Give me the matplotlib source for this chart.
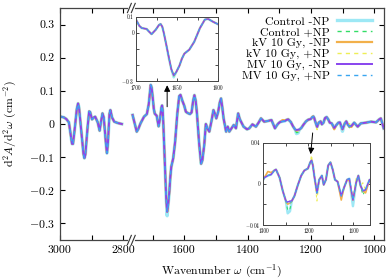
import numpy as np
import matplotlib
matplotlib.use("Agg")
import matplotlib.pyplot as plt

plt.rcParams['font.family'] = ['cmr10', 'DejaVu Serif']
plt.rcParams['mathtext.fontset'] = 'cm'
plt.rcParams['axes.formatter.use_mathtext'] = True

# C-H stretch region (left of the axis break)
wn_high = [2997, 2988, 2980, 2972, 2966, 2962, 2959, 2953, 2947, 2943, 2940,
           2933, 2926, 2923, 2920, 2913, 2908, 2905, 2899, 2893, 2889, 2881,
           2875, 2871, 2866, 2862, 2855, 2852, 2849, 2844, 2841, 2836, 2829,
           2818, 2805]
d2_high = [0.022, 0.020, 0.015, 0.005, -0.035, -0.060, -0.060, -0.010, 0.045,
           0.062, 0.050, -0.020, -0.090, -0.103, -0.092, -0.010, 0.038, 0.036,
           0.014, 0.020, 0.022, 0.005, -0.020, 0.005, 0.032, 0.020, -0.060,
           -0.088, -0.060, 0.030, 0.042, 0.020, 0.007, 0.003, 0.000]

# fingerprint region (right of the axis break)
wn_low = [1763, 1756, 1750, 1745, 1738, 1727, 1718, 1712, 1706, 1703, 1700,
          1696, 1693, 1687, 1684, 1681, 1676, 1672, 1670, 1668, 1666, 1663,
          1660, 1657, 1654, 1651, 1647, 1644, 1641, 1635, 1629, 1625, 1622,
          1616, 1612, 1606, 1600, 1595, 1589, 1582, 1577, 1572, 1568, 1564,
          1560, 1553, 1547, 1543, 1537, 1532, 1526, 1521, 1514, 1508, 1503,
          1499, 1493, 1488, 1484, 1480, 1476, 1468, 1463, 1458, 1451, 1444,
          1437, 1430, 1425, 1421, 1413, 1402, 1395, 1385, 1374, 1365, 1358,
          1348, 1337, 1325, 1314, 1308, 1304, 1298, 1290, 1283, 1276, 1272,
          1264, 1257, 1250, 1246, 1241, 1237, 1231, 1224, 1216, 1209, 1201,
          1196, 1193, 1190, 1187, 1181, 1176, 1170, 1166, 1161, 1156, 1151,
          1146, 1141, 1135, 1127, 1121, 1114, 1109, 1101, 1094, 1089, 1084,
          1079, 1073, 1064, 1053, 1043, 1027, 1011, 995, 985, 980, 975, 971]
d2_low = [0.027, 0.000, -0.023, -0.015, 0.002, 0.022, 0.030, 0.060, 0.118,
          0.110, 0.084, 0.045, 0.031, 0.025, 0.008, -0.007, 0.020, 0.050,
          0.056, 0.040, -0.001, -0.075, -0.151, -0.225, -0.265, -0.245,
          -0.204, -0.160, -0.129, -0.104, -0.055, -0.005, 0.031, 0.084,
          0.088, 0.070, 0.055, 0.037, 0.033, 0.030, 0.035, 0.070, 0.087,
          0.070, 0.032, -0.060, -0.120, -0.110, -0.063, 0.000, -0.015,
          -0.023, 0.010, 0.042, 0.030, 0.017, 0.037, 0.065, 0.077, 0.050,
          0.017, -0.023, -0.008, -0.023, -0.013, -0.003, -0.013, 0.032,
          0.015, 0.007, -0.008, -0.016, -0.013, -0.001, -0.008, 0.005,
          0.017, 0.007, 0.009, 0.012, -0.013, -0.004, 0.001, 0.006, 0.008,
          0.009, 0.013, 0.014, 0.006, -0.007, -0.017, -0.020, -0.019,
          -0.017, -0.012, -0.002, 0.008, 0.013, 0.015, 0.021, 0.023, 0.018,
          0.008, -0.009, 0.004, 0.008, -0.001, 0.004, 0.018, 0.021, 0.014,
          0.004, 0.002, -0.012, -0.004, 0.004, 0.005, -0.016, 0.001, 0.008,
          -0.002, -0.007, -0.006, 0.004, -0.008, 0.002, 0.004, 0.007, 0.005,
          0.014, 0.017, 0.000, -0.013]

labels = ['Control -NP', 'Control +NP', 'kV 10 Gy, -NP', 'kV 10 Gy, +NP',
          'MV 10 Gy, -NP', 'MV 10 Gy, +NP']
colors = ['#9de8f5', '#33dd66', '#f2b04a', '#eeee55', '#8844ee', '#3aa6f0']
styles = ['-', (0, (3, 3)), '-', (0, (3, 3)), '-', (0, (3, 3))]
widths = [2.4, 1.0, 1.6, 1.0, 1.4, 1.0]

# small differences between samples, at given wavenumbers
offsets = [
    {1654: -0.012, 1660: -0.006, 1246: -0.009, 1241: -0.008, 1101: -0.006},
    {1654: -0.006, 1246: -0.006, 1241: -0.006, 1079: -0.004},
    {1290: 0.004, 1283: 0.002, 1127: -0.004, 1109: -0.002, 1073: -0.003},
    {1654: 0.012, 1644: 0.012, 1193: 0.005, 1181: -0.008, 1094: 0.004, 1079: 0.008},
    {1246: 0.002, 1241: 0.002},
    {},
]

BREAK_HI = 2775
BREAK_LO = 1767
GAP = 3000 - BREAK_HI


def fwd(w):
    w = np.asarray(w, dtype=float)
    return np.where(w > 2000, w - 3000, (w - BREAK_LO) - GAP)


def inv(t):
    t = np.asarray(t, dtype=float)
    return np.where(t > -GAP, t + 3000, t + GAP + BREAK_LO)


def series(i):
    lo = list(d2_low)
    for k, v in offsets[i].items():
        lo[wn_low.index(k)] += v
    x = wn_high + [np.nan] + wn_low
    y = d2_high + [np.nan] + lo
    return np.array(x, dtype=float), np.array(y)


fig = plt.figure(figsize=(3.92, 2.8), dpi=100)
ax = fig.add_axes([60 / 392, 40 / 280, 324 / 392, 232 / 280])
ax.set_xscale('function', functions=(fwd, inv))

for i in range(6):
    x, y = series(i)
    ax.plot(x, y, color=colors[i], ls=styles[i], lw=widths[i], label=labels[i])

ax.set_xlim(3000, 970)
ax.set_ylim(-0.35, 0.35)
ax.set_xticks([3000, 2800, 1600, 1400, 1200, 1000])
ax.set_xticklabels(['3000', '2800', '1600', '1400', '1200', '1000'])
ax.set_xticks([2900, 1700, 1500, 1300, 1100], minor=True)
ax.set_yticks([-0.3, -0.2, -0.1, 0, 0.1, 0.2, 0.3])
ax.set_yticklabels(['$-0.3$', '$-0.2$', '$-0.1$', '0', '0.1', '0.2', '0.3'])
ax.tick_params(which='both', direction='in', top=True, right=True,
               length=3.5, width=0.8, labelsize=8.5, pad=4)
for s in ax.spines.values():
    s.set_linewidth(0.9)
    s.set_color('#444444')

ax.set_xlabel(r'Wavenumber $\omega$ (cm$^{-1}$)', fontsize=8.5)
ax.set_ylabel(r'd$^2A$/d$^2\omega$ (cm$^{-2}$)', fontsize=8.5)
ax.xaxis.set_label_coords(0.5, -0.1)
ax.yaxis.set_label_coords(-0.125, 0.5)

# axis break marks
xb = (fwd(BREAK_HI) - fwd(3000)) / (fwd(970) - fwd(3000))
for yb in (0, 1):
    ax.plot([xb - 0.006, xb + 0.006], [yb, yb], color='white', lw=2,
            transform=ax.transAxes, clip_on=False, zorder=5)
    for d in (-0.006, 0.006):
        ax.plot([xb + d - 0.006, xb + d + 0.006], [yb - 0.02, yb + 0.02],
                color='#333333', lw=0.8, transform=ax.transAxes,
                clip_on=False, zorder=6)

ax.legend(loc='upper right', bbox_to_anchor=(0.985, 0.995), frameon=False,
          markerfirst=False, fontsize=8.5, handlelength=3.0,
          labelspacing=0.05, handletextpad=0.6, borderaxespad=0.2)

# insets
ins1 = fig.add_axes([136 / 392, (280 - 81) / 280, 82 / 392, 64 / 280])
ins2 = fig.add_axes([262.5 / 392, (280 - 224.5) / 280, 108 / 392, 81.5 / 280])
for a in (ins1, ins2):
    for i in range(6):
        x, y = series(i)
        a.plot(x, y, color=colors[i], ls=styles[i], lw=widths[i] * 0.75)
    a.tick_params(which='both', direction='in', top=True, right=True,
                  length=2, width=0.5, labelsize=3.8)
    a.tick_params(axis='x', pad=3)
    a.tick_params(axis='y', pad=1.5)
    for s in a.spines.values():
        s.set_linewidth(0.7)
        s.set_color('#444444')

ins1.set_xlim(1700, 1600)
ins1.set_ylim(-0.3, 0.1)
ins1.set_xticks([1700, 1675, 1650, 1625, 1600])
ins1.set_xticklabels(['1700', '', '1650', '', '1600'])
ins1.set_yticks([-0.3, -0.2, -0.1, 0, 0.1])
ins1.set_yticklabels(['$-0.3$', '', '', '0', '0.1'])

ins2.set_xlim(1302, 1062)
ins2.set_ylim(-0.04, 0.04)
ins2.set_xticks([1300, 1250, 1200, 1150, 1100])
ins2.set_xticklabels(['1300', '', '1200', '', '1100'])
ins2.set_yticks([-0.04, -0.02, 0, 0.02, 0.04])
ins2.set_yticklabels(['$-0.04$', '', '0', '', '0.04'])

# arrows linking the insets to the main spectrum
ax.annotate('', xy=(1654, 0.117), xytext=(1654, 0.052),
            arrowprops=dict(arrowstyle='-|>', color='k', lw=0.7,
                            mutation_scale=9, shrinkA=0, shrinkB=0))
ins2.annotate('', xy=(1195, 0.029), xytext=(1195, -0.027),
              textcoords=ax.transData,
              arrowprops=dict(arrowstyle='-|>', color='k', lw=0.7,
                              mutation_scale=9, shrinkA=0, shrinkB=0))

fig.savefig('out.png', dpi=100)
